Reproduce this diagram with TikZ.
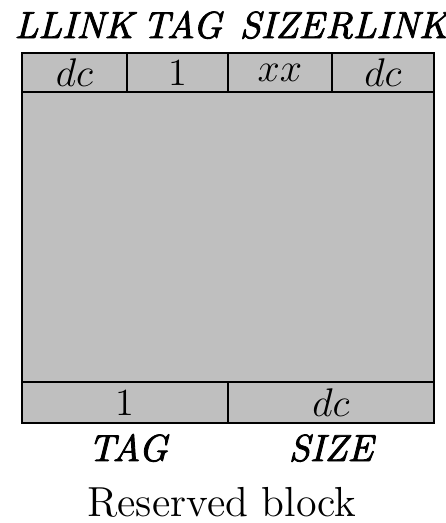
\documentclass[tikz,border=0pt]{standalone}
\usepackage{fontspec}
\newfontface\fieldfont{lmroman10-italic.otf}[FakeBold=2.2]
\definecolor{cellgray}{RGB}{191,191,191}
\begin{document}
\begin{tikzpicture}[x=0.3pt,y=-0.3pt,
  cell/.style={draw=black,fill=cellgray,line width=0.65pt,inner sep=0pt,
    font=\fontsize{11.5}{13}\selectfont},
  fieldname/.style={inner sep=0pt,font=\fontsize{11.3}{13}\fieldfont},
  caption/.style={inner sep=0pt,font=\fontsize{12.6}{14}\selectfont}]
\useasboundingbox (0,0) rectangle (446,523);
% header row
\node[cell,minimum width=31.5pt,minimum height=11.7pt] (llink) at (74.5,72.5) {$dc$};
\node[cell,minimum width=30.3pt,minimum height=11.7pt] (tag)   at (177.5,72.5) {1};
\node[cell,minimum width=31.2pt,minimum height=11.7pt] (size)  at (280,72.5) {$xx$};
\node[cell,minimum width=30.6pt,minimum height=11.7pt] (rlink) at (383,72.5) {$dc$};
% body of the block
\node[cell,minimum width=123.6pt,minimum height=87pt] (body) at (228,237) {};
% footer row
\node[cell,minimum width=61.8pt,minimum height=12.3pt] (ftag)  at (125,402.5) {1};
\node[cell,minimum width=61.8pt,minimum height=12.3pt] (fsize) at (331,402.5) {$dc$};
% field names
\node[fieldname,anchor=base west] (n1) at (14,38) {LLINK};
\node[fieldname,anchor=base west] (n2) at (142,38) {TAG};
\node[fieldname,anchor=base west] (n3) at (239,38) {SIZE};
\node[fieldname,anchor=base west] (n4) at (n3.base east) {RLINK};
\node[fieldname,anchor=base] (n5) at (128,461) {TAG};
\node[fieldname,anchor=base] (n6) at (331,461) {SIZE};
% caption
\node[caption,anchor=base] (cap) at (222,516) {Reserved block};
\end{tikzpicture}
\end{document}
